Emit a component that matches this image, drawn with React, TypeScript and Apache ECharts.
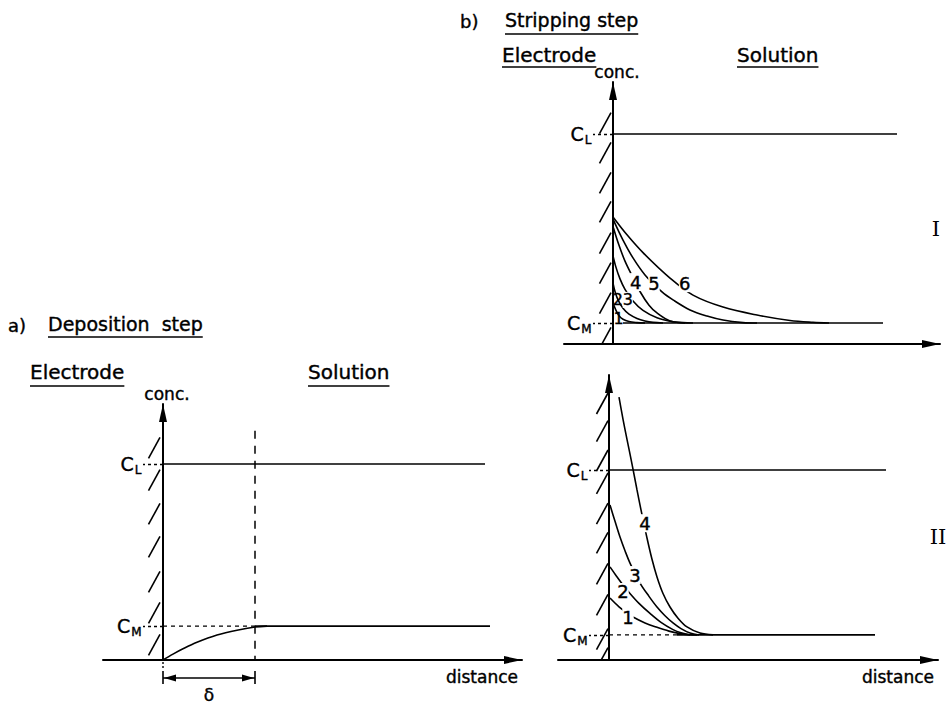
import React, { useEffect, useRef } from 'react';
import * as echarts from 'echarts';

// ---------- Panel a) Deposition step ----------
const A_X_RANGE = [-3.0, 17.95];
const A_Y_MAX = 13.06;
const A_CL = 10;
const A_CM = 1.73;
const A_DELTA = 4.6;
const A_BOUNDARY_TOP = 11.7;
const A_CL_END = 16.1;
const A_CM_END = 16.35;
const A_PROFILE: number[][] = [[0, 0], [0.5, 0.3], [1.0, 0.57], [1.7, 0.9], [2.7, 1.27], [3.7, 1.52], [4.6, 1.68], [5.2, 1.73]];
const A_HATCH = [10.82, 9.18, 7.45, 5.77, 3.98, 2.4, 0.77];
const A_DELTA_MARK = [[0, A_DELTA, -0.92]];

// ---------- Panel b-I) Stripping step, case I ----------
const I_X_RANGE = [-2.45, 16.35];
const I_Y_MAX = 12.48;
const I_CL = 10;
const I_CM = 1.0;
const I_CL_END = 14.2;
const I_CM_START = 0.5;
const I_CM_END = 13.5;
const I_C1: number[][] = [[0, 1.95], [0.15, 1.6], [0.3, 1.35], [0.5, 1.18], [0.8, 1.07], [1.2, 1.02], [1.6, 1.0]];
const I_C2: number[][] = [[0, 2.9], [0.1, 2.5], [0.25, 2.1], [0.5, 1.7], [0.8, 1.42], [1.2, 1.22], [1.6, 1.1], [2.0, 1.03], [2.5, 1.0]];
const I_C3: number[][] = [[0, 4.2], [0.15, 3.65], [0.35, 3.1], [0.6, 2.6], [1.0, 2.05], [1.5, 1.6], [2.2, 1.25], [3.0, 1.06], [3.6, 1.0]];
const I_C4: number[][] = [[0, 5.6], [0.3, 4.7], [0.6, 3.95], [0.95, 3.26], [1.35, 2.5], [1.8, 1.85], [2.2, 1.48], [2.85, 1.1], [3.5, 1.02], [4.0, 1.0]];
const I_C5: number[][] = [[0, 5.95], [0.5, 4.95], [1.0, 4.1], [1.6, 3.29], [2.45, 2.48], [3.0, 2.1], [3.85, 1.62], [4.7, 1.33], [5.5, 1.14], [6.5, 1.02], [7.2, 1.0]];
const I_C6: number[][] = [[0, 6.05], [0.7, 5.2], [1.5, 4.35], [2.85, 3.14], [4.0, 2.33], [5.5, 1.76], [7.2, 1.38], [8.85, 1.12], [10.0, 1.03], [10.8, 1.0]];
const I_LABELS: [number, number, string][] = [[0.28, 1.21, '1'], [0.24, 2.12, '2'], [0.74, 2.1, '3'], [1.14, 2.95, '4'], [2.05, 2.86, '5'], [3.58, 2.9, '6']];
const I_HATCH = [10.52, 9.1, 7.67, 6.29, 4.81, 3.38, 1.95, 0.29];

// ---------- Panel b-II) Stripping step, case II ----------
const II_X_RANGE = [-2.55, 16.45];
const II_Y_MAX = 15.0;
const II_CL = 10;
const II_CM = 1.32;
const II_CL_END = 13.85;
const II_CM_SPLIT = 3.4;
const II_CM_END = 13.3;
const II_C1: number[][] = [[0.05, 3.26], [0.5, 2.8], [0.95, 2.45], [1.2, 2.26], [1.8, 1.95], [2.4, 1.72], [3.0, 1.52], [3.5, 1.4], [4.05, 1.32]];
const II_C2: number[][] = [[0.05, 4.9], [0.35, 4.45], [0.7, 3.95], [1.05, 3.5], [1.5, 2.98], [2.05, 2.45], [2.6, 1.98], [3.2, 1.6], [3.6, 1.43], [4.05, 1.33], [4.4, 1.32]];
const II_C3: number[][] = [[0.05, 8.16], [0.3, 7.3], [0.55, 6.47], [0.8, 5.75], [1.05, 5.1], [1.55, 4.05], [2.0, 3.35], [2.4, 2.79], [2.8, 2.33], [3.2, 1.95], [3.6, 1.65], [4.05, 1.42], [4.5, 1.32]];
const II_C4: number[][] = [[0.5, 13.84], [0.75, 12.4], [1.0, 11.1], [1.2, 10.05], [1.4, 8.95], [1.6, 7.9], [1.9, 6.42], [2.15, 5.3], [2.4, 4.37], [2.7, 3.5], [3.05, 2.79], [3.45, 2.2], [3.9, 1.74], [4.55, 1.42], [5.2, 1.32]];
const II_LABELS: [number, number, string][] = [[0.95, 2.26, '1'], [0.7, 3.58, '2'], [1.3, 4.47, '3'], [1.8, 7.2, '4']];
const II_HATCH = [13.5, 12.05, 10.5, 9.3, 7.7, 6.16, 4.53, 2.9, 1.1, 0.1];

const FONT = "'DejaVu Sans', sans-serif";
const SERIF = "'DejaVu Serif', serif";
const BLACK = '#000';
const INK = { textBorderColor: BLACK, textBorderWidth: 0.4 };

const GRIDS = [
  { left: 103, top: 404, width: 419, height: 256, outerBoundsMode: 'none' },
  { left: 564, top: 82, width: 376, height: 262, outerBoundsMode: 'none' },
  { left: 558, top: 375, width: 380, height: 285, outerBoundsMode: 'none' },
];

const axisLine = {
  show: true,
  onZero: true,
  symbol: ['none', 'triangle'],
  symbolSize: [8, 18],
  symbolOffset: [0, -9],
  lineStyle: { color: BLACK, width: 2 },
};

function xAx(g: number, range: number[], name?: string) {
  return {
    type: 'value', gridIndex: g, min: range[0], max: range[1],
    axisLine, axisTick: { show: false }, axisLabel: { show: false }, splitLine: { show: false },
    name: name || '', nameLocation: 'end', nameGap: -4,
    nameTextStyle: { fontSize: 17, fontFamily: FONT, color: BLACK, align: 'right', verticalAlign: 'top', padding: [8, 0, 0, 0], ...INK },
  };
}

function yAx(g: number, max: number, cm: number, cl: number, name?: string) {
  return {
    type: 'value', gridIndex: g, min: 0, max,
    axisLine,
    axisTick: { show: true, customValues: [cm, cl], length: 20, lineStyle: { color: BLACK, width: 1.3, type: [3, 3] } },
    axisLabel: { show: false },
    splitLine: { show: false },
    name: name || '', nameLocation: 'end', nameGap: 2,
    nameTextStyle: { fontSize: 17, fontFamily: FONT, color: BLACK, align: 'center', verticalAlign: 'bottom', padding: [0, 0, 0, 8], ...INK },
  };
}

// C_L / C_M labels beside the concentration axis
function concLabels(g: number, cm: number, cl: number) {
  return {
    type: 'scatter', xAxisIndex: g, yAxisIndex: g, silent: true, z: 5, symbolSize: 1,
    itemStyle: { color: 'transparent', opacity: 1 },
    data: [{ value: [0, cl], name: 'L' }, { value: [0, cm], name: 'M' }],
    label: {
      show: true, position: 'left', distance: 21, color: BLACK, opacity: 1,
      formatter: (p: any) => `{c|C}{s|${p.name}}`,
      rich: {
        c: { fontSize: 19, fontFamily: FONT, color: BLACK, ...INK },
        s: { fontSize: 12, fontFamily: FONT, color: BLACK, padding: [12, 0, 0, 1], ...INK },
      },
    },
  };
}

function seg(g: number, data: number[][], dash?: number[], width = 1.6) {
  return {
    type: 'line', xAxisIndex: g, yAxisIndex: g, data, symbol: 'none', silent: true, z: 2,
    lineStyle: { color: BLACK, width, type: dash || 'solid' },
  };
}

function curve(g: number, data: number[][]) {
  return { ...seg(g, data), smooth: 0.35 };
}

function hatch(g: number, ys: number[], gap: number) {
  return {
    type: 'custom', xAxisIndex: g, yAxisIndex: g, clip: true, silent: true, z: 3,
    data: ys.map((y) => [0, y]), encode: { x: 0, y: 1 },
    renderItem: (_p: any, api: any) => {
      const c = api.coord([api.value(0), api.value(1)]);
      return {
        type: 'line',
        shape: { x1: c[0] - gap, y1: c[1] - 10.5, x2: c[0] - gap - 11.5, y2: c[1] + 10.5 },
        style: { stroke: BLACK, lineWidth: 1.6 },
      };
    },
  };
}

// curve numbers; labels left of smallBelow are drawn smaller (crowded near the electrode)
function labels(g: number, items: [number, number, string][], smallBelow: number) {
  return {
    type: 'scatter', xAxisIndex: g, yAxisIndex: g, silent: true, z: 5, symbolSize: 1,
    itemStyle: { color: 'transparent', opacity: 1 },
    data: items.map(([x, y, t]) => ({
      value: [x, y], name: t,
      label: { backgroundColor: x > 0.5 ? '#fff' : 'transparent', fontSize: x < smallBelow ? 16 : 18 },
    })),
    label: { show: true, position: 'inside', formatter: '{b}', color: BLACK, opacity: 1, fontSize: 18, fontFamily: FONT, padding: 0, ...INK },
  };
}

const deltaMark = {
  type: 'custom', xAxisIndex: 0, yAxisIndex: 0, clip: false, silent: true, z: 3,
  data: A_DELTA_MARK, encode: { x: [0, 1], y: 2 },
  renderItem: (_p: any, api: any) => {
    const p1 = api.coord([api.value(0), api.value(2)]);
    const p2 = api.coord([api.value(1), api.value(2)]);
    const y = p1[1];
    const L = 13, H = 3.5;
    const st = { stroke: BLACK, lineWidth: 1.6 };
    return {
      type: 'group',
      children: [
        { type: 'line', shape: { x1: p1[0], y1: y, x2: p2[0], y2: y }, style: st },
        { type: 'polygon', shape: { points: [[p1[0] + 1, y], [p1[0] + L, y - H], [p1[0] + L, y + H]] }, style: { fill: BLACK } },
        { type: 'polygon', shape: { points: [[p2[0] - 1, y], [p2[0] - L, y - H], [p2[0] - L, y + H]] }, style: { fill: BLACK } },
        { type: 'line', shape: { x1: p1[0], y1: y - 7, x2: p1[0], y2: y + 6 }, style: st },
        { type: 'line', shape: { x1: p1[0], y1: y - 16, x2: p1[0], y2: y - 9 }, style: { stroke: BLACK, lineWidth: 1.4, lineDash: [2, 2] } },
        { type: 'line', shape: { x1: p2[0], y1: y - 7, x2: p2[0], y2: y + 6 }, style: st },
        { type: 'text', style: { text: 'δ', x: (p1[0] + p2[0]) / 2, y: y + 17, align: 'center', verticalAlign: 'middle', fontSize: 17, fontFamily: FONT, fill: BLACK, stroke: BLACK, lineWidth: 0.4 } },
      ],
    };
  },
};

function measure(text: string, size: number): number {
  const ctx = document.createElement('canvas').getContext('2d');
  if (!ctx) return text.length * size * 0.6;
  ctx.font = `${size}px 'DejaVu Sans'`;
  return ctx.measureText(text).width;
}

function heading(x: number, y: number, text: string, size: number, underlineY?: number) {
  const els: any[] = [
    { type: 'text', x, y, silent: true, style: { text, fontSize: size, fontFamily: FONT, fill: BLACK, stroke: BLACK, lineWidth: 0.4, align: 'left', verticalAlign: 'middle' } },
  ];
  if (underlineY !== undefined) {
    const w = measure(text, size);
    els.push({ type: 'line', silent: true, shape: { x1: x, y1: underlineY, x2: x + w, y2: underlineY }, style: { stroke: BLACK, lineWidth: 1.6 } });
  }
  return els;
}

function buildOption() {
  return {
    animation: false,
    backgroundColor: '#fff',
    grid: GRIDS,
    xAxis: [xAx(0, A_X_RANGE, 'distance'), xAx(1, I_X_RANGE), xAx(2, II_X_RANGE, 'distance')],
    yAxis: [yAx(0, A_Y_MAX, A_CM, A_CL, 'conc.'), yAx(1, I_Y_MAX, I_CM, I_CL, 'conc.'), yAx(2, II_Y_MAX, II_CM, II_CL)],
    series: [
      // a
      seg(0, [[0, A_CL], [A_CL_END, A_CL]]),
      seg(0, [[0, A_CM], [A_DELTA, A_CM]], [4, 4], 1.2),
      seg(0, [[A_DELTA, A_CM], [A_CM_END, A_CM]]),
      seg(0, [[A_DELTA, A_BOUNDARY_TOP], [A_DELTA, 0]], [8, 7], 1.5),
      curve(0, A_PROFILE),
      hatch(0, A_HATCH, 3),
      deltaMark,
      concLabels(0, A_CM, A_CL),
      // b-I
      seg(1, [[0, I_CL], [I_CL_END, I_CL]]),
      seg(1, [[I_CM_START, I_CM], [I_CM_END, I_CM]]),
      curve(1, I_C1), curve(1, I_C2), curve(1, I_C3), curve(1, I_C4), curve(1, I_C5), curve(1, I_C6),
      hatch(1, I_HATCH, 2),
      labels(1, I_LABELS, 1.0),
      concLabels(1, I_CM, I_CL),
      // b-II
      seg(2, [[0, II_CL], [II_CL_END, II_CL]]),
      seg(2, [[0, II_CM], [II_CM_SPLIT, II_CM]], [4, 4], 1.2),
      seg(2, [[II_CM_SPLIT, II_CM], [II_CM_END, II_CM]]),
      curve(2, II_C1), curve(2, II_C2), curve(2, II_C3), curve(2, II_C4),
      hatch(2, II_HATCH, 1),
      labels(2, II_LABELS, 0),
      concLabels(2, II_CM, II_CL),
    ],
    graphic: [
      ...heading(8, 325, 'a)', 18),
      ...heading(48, 324, 'Deposition  step', 19, 337),
      ...heading(30, 372, 'Electrode', 20, 386),
      ...heading(308, 372, 'Solution', 20, 386),
      ...heading(460, 21, 'b)', 18),
      ...heading(505, 20, 'Stripping step', 19, 34),
      ...heading(502, 55, 'Electrode', 20, 67),
      ...heading(737, 55, 'Solution', 20, 67),
      { type: 'text', x: 936, y: 229, silent: true, style: { text: 'I', fontSize: 21, fontFamily: SERIF, fill: BLACK, align: 'center', verticalAlign: 'middle' } },
      { type: 'text', x: 938, y: 537, silent: true, style: { text: 'II', fontSize: 21, fontFamily: SERIF, fill: BLACK, align: 'center', verticalAlign: 'middle' } },
    ],
  };
}

export default function App() {
  const ref = useRef<HTMLDivElement>(null);
  useEffect(() => {
    if (!ref.current) return;
    const chart = echarts.init(ref.current, null, { renderer: 'svg' });
    chart.setOption(buildOption() as any);
    return () => chart.dispose();
  }, []);
  return <div ref={ref} style={{ position: 'fixed', left: 0, top: 0, width: 948, height: 705, background: '#fff' }} />;
}
